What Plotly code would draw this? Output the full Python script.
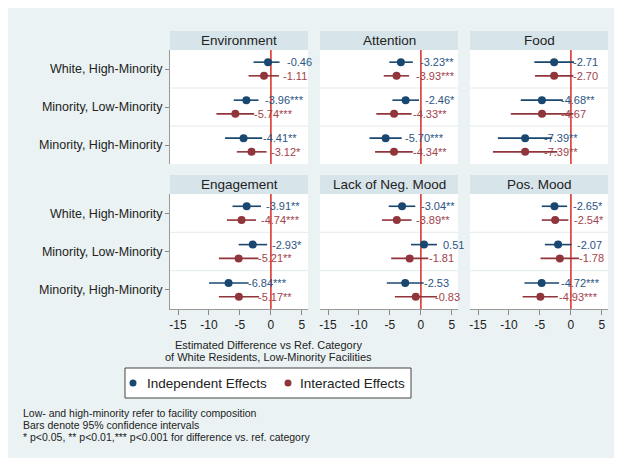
import plotly.graph_objects as go

# ---------------- data ----------------
categories = ["White, High-Minority", "Minority, Low-Minority", "Minority, High-Minority"]
panels = ["Environment", "Attention", "Food", "Engagement", "Lack of Neg. Mood", "Pos. Mood"]
x_ticks = [-15, -10, -5, 0, 5]
series_names = ["Independent Effects", "Interacted Effects"]

# Independent effects (rows = panels, cols = categories)
ind_est = [
    [-0.46, -3.96, -4.41],
    [-3.23, -2.46, -5.70],
    [-2.71, -4.68, -7.39],
    [-3.91, -2.93, -6.84],
    [-3.04, 0.51, -2.53],
    [-2.65, -2.07, -4.72],
]
ind_lo = [
    [-2.8, -6.0, -7.4],
    [-5.1, -4.6, -8.3],
    [-5.9, -8.1, -11.8],
    [-6.2, -5.2, -10.0],
    [-5.2, -1.6, -5.5],
    [-4.7, -4.2, -7.5],
]
ind_hi = [
    [1.4, -2.0, -1.4],
    [-1.3, -0.3, -3.1],
    [0.5, -1.3, -3.0],
    [-1.6, -0.6, -3.6],
    [-0.9, 2.6, 0.45],
    [-0.6, 0.1, -1.9],
]
ind_stars = [
    ["", "***", "**"],
    ["**", "*", "***"],
    ["", "**", "**"],
    ["**", "*", "***"],
    ["**", "", ""],
    ["*", "", "***"],
]

# Interacted effects
int_est = [
    [-1.11, -5.74, -3.12],
    [-3.93, -4.33, -4.34],
    [-2.70, -4.67, -7.39],
    [-4.74, -5.21, -5.17],
    [-3.89, -1.81, -0.83],
    [-2.54, -1.78, -4.93],
]
int_lo = [
    [-3.6, -8.8, -5.5],
    [-6.0, -7.2, -7.4],
    [-5.8, -9.7, -12.6],
    [-7.1, -8.4, -8.4],
    [-6.3, -4.8, -4.2],
    [-4.7, -4.9, -7.8],
]
int_hi = [
    [1.3, -2.7, -0.7],
    [-1.9, -1.5, -1.3],
    [0.4, 0.4, -2.2],
    [-2.4, -2.0, -1.9],
    [-1.5, 1.2, 2.6],
    [-0.4, 1.3, -2.1],
]
int_stars = [
    ["", "***", "*"],
    ["***", "**", "**"],
    ["", "", "**"],
    ["***", "**", "**"],
    ["**", "", ""],
    ["*", "", "***"],
]

NAVY, NAVY_T = "#1a476f", "#2b5583"
MAROON, MAROON_T = "#90353b", "#a2434a"
series = [
    (series_names[0], ind_est, ind_lo, ind_hi, ind_stars, NAVY, NAVY_T, -0.18),
    (series_names[1], int_est, int_lo, int_hi, int_stars, MAROON, MAROON_T, 0.18),
]

# ---------------- layout geometry (page pixels; page has 8px body margin) ----------------
W, H = 622, 458
OFF = 8
col_left = [170, 320, 470]
col_w = 138
row_plot = [(50, 164), (194, 309)]
header_h = 19
FONT = "Liberation Sans, Arial, sans-serif"


def fx(p):
    return (p - OFF) / W


def fy(p):
    return 1 - (p - OFF) / H


fig = go.Figure()
layout = {}
shapes = []
annotations = []

for i, pname in enumerate(panels):
    r, c = divmod(i, 3)
    n = i + 1
    xa = "xaxis" if n == 1 else f"xaxis{n}"
    ya = "yaxis" if n == 1 else f"yaxis{n}"
    xr = "x" if n == 1 else f"x{n}"
    yr = "y" if n == 1 else f"y{n}"
    top, bot = row_plot[r]
    layout[xa] = dict(
        domain=[fx(col_left[c]), fx(col_left[c] + col_w)],
        anchor=yr, range=[-16.3, 6.0], showgrid=False, zeroline=False,
        tickvals=x_ticks, ticktext=[str(t) for t in x_ticks],
        showticklabels=(r == 1), ticks="outside" if r == 1 else "",
        ticklen=5, tickcolor="#8a8a8a", tickwidth=1,
        showline=(r == 1), linecolor="#9a9a9a", linewidth=1,
        tickfont=dict(size=12, color="#222", family=FONT), fixedrange=True,
    )
    layout[ya] = dict(
        domain=[fy(bot), fy(top)], anchor=xr, range=[2.5, -0.5],
        showgrid=False, zeroline=False,
        tickvals=[0, 1, 2], ticktext=categories,
        showticklabels=(c == 0), ticks="outside" if c == 0 else "",
        ticklen=4, tickcolor="#8a8a8a", tickwidth=1,
        showline=(c == 0), linecolor="#9a9a9a", linewidth=1,
        tickfont=dict(size=12.5, color="#222", family=FONT), fixedrange=True,
    )
    # header strip
    hh = header_h / (bot - top)
    shapes.append(dict(type="rect", xref=f"{xr} domain", yref=f"{yr} domain",
                       x0=0, x1=1, y0=1, y1=1 + hh, fillcolor="#d7e4ea",
                       line=dict(width=0), layer="above"))
    annotations.append(dict(text=pname, xref=f"{xr} domain", yref=f"{yr} domain",
                            x=0.5, y=1 + hh / 2, showarrow=False, xanchor="center",
                            yanchor="middle", font=dict(size=13.5, color="#222", family=FONT)))
    # band separators
    for sep in [0.5, 1.5]:
        shapes.append(dict(type="line", xref=f"{xr} domain", yref=yr, x0=0, x1=1,
                           y0=sep, y1=sep, line=dict(color="#e2eaee", width=1), layer="below"))
    # reference line at 0
    shapes.append(dict(type="line", xref=xr, yref=f"{yr} domain", x0=0, x1=0, y0=0, y1=1,
                       line=dict(color="#dd4a43", width=1.8), layer="below"))

    for (name, est, lo, hi, stars, col, tcol, off) in series:
        e = est[i]
        ys = [k + off for k in range(3)]
        fig.add_trace(go.Scatter(
            x=e, y=ys, xaxis=xr, yaxis=yr, mode="markers", name=name,
            showlegend=False, legendgroup=name,
            marker=dict(color=col, size=8),
            error_x=dict(type="data", symmetric=False,
                         array=[h - v for h, v in zip(hi[i], e)],
                         arrayminus=[v - l for v, l in zip(e, lo[i])],
                         color=col, thickness=1.6, width=0),
            hoverinfo="skip",
        ))
        for k in range(3):
            annotations.append(dict(
                text=f"{e[k]:.2f}{stars[i][k]}", x=e[k], y=ys[k], xref=xr, yref=yr,
                showarrow=False, xanchor="left", yanchor="middle", xshift=17,
                font=dict(size=11, color=tcol, family=FONT)))

# x-axis title (two lines)
annotations.append(dict(text="Estimated Difference vs Ref. Category", xref="paper", yref="paper",
                        x=fx(268), y=fy(345), showarrow=False, xanchor="center", yanchor="middle",
                        font=dict(size=11, color="#222", family=FONT)))
annotations.append(dict(text="of White Residents, Low-Minority Facilities", xref="paper", yref="paper",
                        x=fx(268), y=fy(357), showarrow=False, xanchor="center", yanchor="middle",
                        font=dict(size=11, color="#222", family=FONT)))

# legend box (drawn)
shapes.append(dict(type="rect", xref="paper", yref="paper", x0=fx(125), x1=fx(411),
                   y0=fy(398), y1=fy(368), fillcolor="white",
                   line=dict(color="#444", width=1), layer="above"))
legend_items = [(133, 145, series_names[0], NAVY), (288, 298, series_names[1], MAROON)]
for dot_x, txt_x, label, col in legend_items:
    shapes.append(dict(type="circle", xref="paper", yref="paper",
                       x0=fx(dot_x - 3.5), x1=fx(dot_x + 3.5), y0=fy(386.5), y1=fy(379.5),
                       fillcolor=col, line=dict(width=0), layer="above"))
    annotations.append(dict(text=label, xref="paper", yref="paper", x=fx(txt_x), y=fy(383),
                            showarrow=False, xanchor="left", yanchor="middle",
                            font=dict(size=13.5, color="#222", family=FONT)))

# notes
notes = ["Low- and high-minority refer to facility composition",
         "Bars denote 95% confidence intervals",
         "* p<0.05, ** p<0.01,*** p<0.001 for difference vs. ref. category"]
for j, t in enumerate(notes):
    annotations.append(dict(text=t, xref="paper", yref="paper", x=fx(21), y=fy(413 + 12 * j),
                            showarrow=False, xanchor="left", yanchor="middle",
                            font=dict(size=10.5, color="#222", family=FONT)))

fig.update_layout(
    width=W, height=H, margin=dict(l=0, r=0, t=0, b=0),
    paper_bgcolor="#eaf2f3", plot_bgcolor="white",
    shapes=shapes, annotations=annotations, showlegend=False,
    font=dict(family=FONT),
    **layout,
)

fig.write_html("out.html")
